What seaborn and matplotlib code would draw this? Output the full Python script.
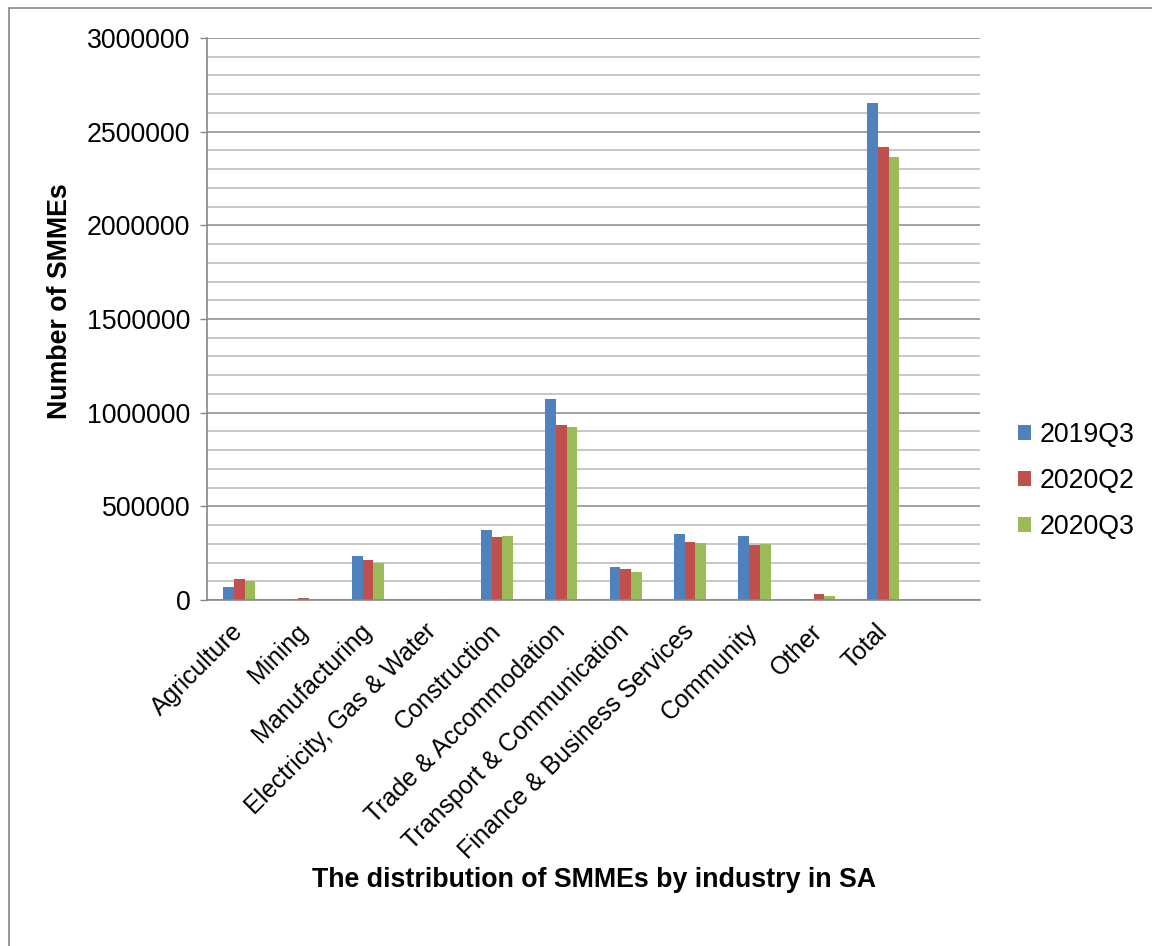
import matplotlib
matplotlib.use("Agg")
import matplotlib.pyplot as plt
from matplotlib.ticker import MultipleLocator
from matplotlib.patches import Rectangle
import numpy as np
import pandas as pd
import seaborn as sns

industries = [
    "Agriculture", "Mining", "Manufacturing", "Electricity, Gas & Water",
    "Construction", "Trade & Accommodation", "Transport & Communication",
    "Finance & Business Services", "Community", "Other", "Total",
]
periods = ["2019Q3", "2020Q2", "2020Q3"]
smme_2019q3 = [70000, 3000, 235000, 1500, 375000, 1075000, 178000, 352000, 342000, 7000, 2653000]
smme_2020q2 = [111000, 9000, 215000, 2000, 335000, 936000, 165000, 310000, 294000, 34000, 2420000]
smme_2020q3 = [102000, 4000, 199000, 4000, 339000, 921000, 149000, 306000, 301000, 23000, 2363000]
colors = ["#4F81BD", "#C0504D", "#9BBB59"]

df = pd.DataFrame({
    "industry": industries * 3,
    "period": np.repeat(periods, len(industries)),
    "count": smme_2019q3 + smme_2020q2 + smme_2020q3,
})

sns.set_theme(style="white")
plt.rcParams["font.family"] = ["Liberation Sans", "DejaVu Sans"]

FS = 19.3
FS_X = 17.9
W, H = 1152, 946
fig = plt.figure(figsize=(W / 100, H / 100), dpi=100)
ax = fig.add_axes([207 / W, 1 - 600 / H, (980 - 207) / W, (600 - 38) / H])

sns.barplot(data=df, x="industry", y="count", hue="period", order=industries,
            hue_order=periods, palette=colors, saturation=1, width=0.5,
            gap=0, ax=ax, linewidth=0, edgecolor="none", errorbar=None)

ax.set_xlim(-0.5, 11.5)
ax.set_ylim(0, 3000000)
ax.yaxis.set_major_locator(MultipleLocator(500000))
ax.yaxis.set_minor_locator(MultipleLocator(100000))
ax.set_axisbelow(True)
ax.grid(which="major", axis="y", color="#878787", linewidth=1.1)
ax.grid(which="minor", axis="y", color="#b8b8b8", linewidth=1.1)
ax.grid(which="major", axis="x", visible=False)

for side in ["top", "right"]:
    ax.spines[side].set_visible(False)
for side in ["left", "bottom"]:
    ax.spines[side].set_color("#878787")
    ax.spines[side].set_linewidth(1.2)

ax.tick_params(axis="y", which="major", left=True, length=5, width=1,
               color="#878787", pad=7, labelsize=FS, labelcolor="black")
ax.tick_params(axis="y", which="minor", left=False)
ax.tick_params(axis="x", bottom=False, pad=14, labelsize=FS_X, labelcolor="black")
ax.set_yticklabels([f"{int(v)}" for v in ax.get_yticks()])
for lbl in ax.get_xticklabels():
    lbl.set_rotation(45)
    lbl.set_ha("right")
    lbl.set_va("center")
    lbl.set_rotation_mode("anchor")

ax.set_xlabel("")
ax.set_ylabel("")
fig.text(60 / W, 1 - 301 / H, "Number of SMMEs", rotation=90, ha="center",
         va="center", fontsize=FS, fontweight="bold", color="black")
fig.text(594 / W, 1 - 880 / H, "The distribution of SMMEs by industry in SA",
         ha="center", va="center", fontsize=FS, fontweight="bold", color="black")

handles, labels = ax.get_legend_handles_labels()
leg = ax.legend(handles, labels, loc="center left",
                bbox_to_anchor=(1018 / W, 1 - 481 / H), bbox_transform=fig.transFigure,
                frameon=False, fontsize=FS, handlelength=0.5, handleheight=0.5,
                handletextpad=0.3, labelspacing=0.75, borderpad=0, borderaxespad=0)
for t in leg.get_texts():
    t.set_color("black")

fig.patches.append(Rectangle((8.5 / W, -0.1), 2, 1.1 - 8.5 / H, fill=False,
                             edgecolor="#878787", linewidth=1.2,
                             transform=fig.transFigure, figure=fig))

fig.savefig("out.png", dpi=100, facecolor="white")
